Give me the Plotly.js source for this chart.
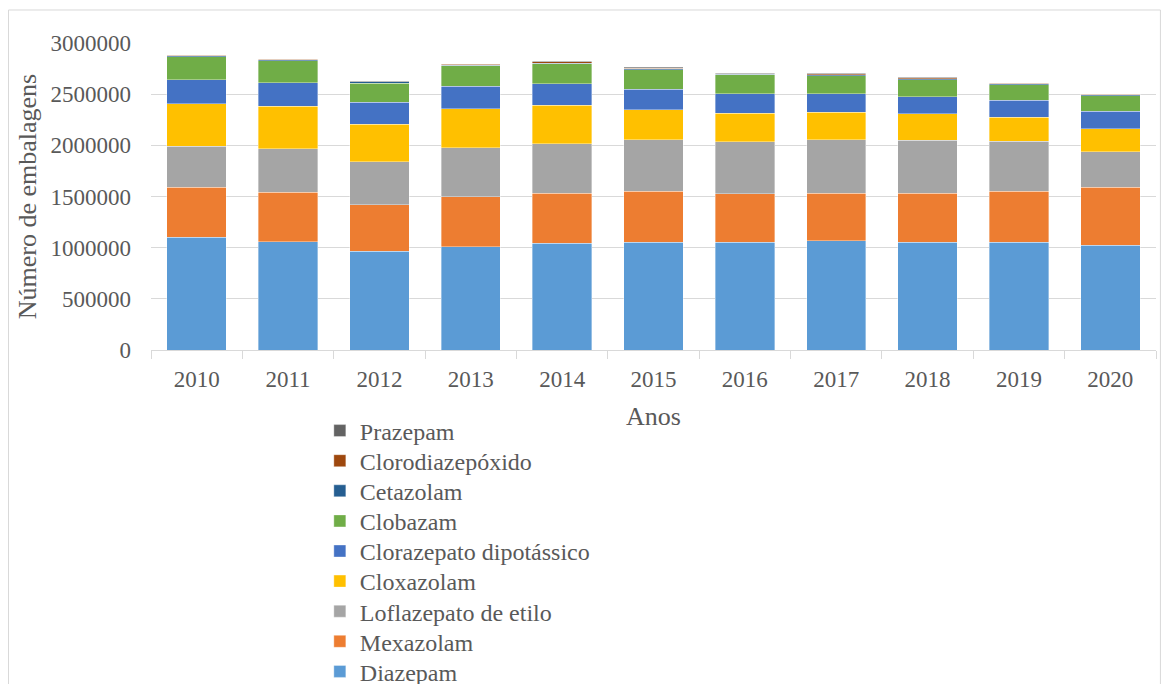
<!DOCTYPE html>
<html>
<head>
<meta charset="utf-8">
<script src="https://cdn.plot.ly/plotly-3.0.1.min.js"></script>
<style>html,body{margin:0;padding:0;background:#fff;}#chart{width:1171px;height:684px;}</style>
</head>
<body>
<div id="chart"></div>
<script>
const years = ['2010','2011','2012','2013','2014','2015','2016','2017','2018','2019','2020'];
const diazepam      = [1103000,1060000,963000,1009000,1045000,1055000,1055000,1070000,1055000,1055000,1025000];
const mexazolam     = [488000,482000,458000,490000,487000,497000,473000,462000,477000,497000,566000];
const loflazepato   = [399000,425000,419000,478000,484000,503000,507000,523000,517000,487000,344000];
const cloxazolam    = [415000,413000,365000,380000,374000,292000,280000,270000,259000,237000,227000];
const clorazepato   = [238000,234000,214000,218000,210000,199000,188000,178000,166000,163000,169000];
const clobazam      = [221000,211000,188000,201000,195000,191000,185000,179000,169000,155000,152000];
const cetazolam     = [12000,13000,12000,6000,8000,10000,9000,8000,8000,8000,12000];
const clorodiazep   = [4000,5000,3000,10000,14000,6000,3000,10000,10000,3000,5000];
const prazepam      = [3000,5000,2000,3000,5000,10000,5000,5000,5000,9000,3000];

const seriesNames = ['Diazepam','Mexazolam','Loflazepato de etilo','Cloxazolam','Clorazepato dipotássico','Clobazam','Cetazolam','Clorodiazepóxido','Prazepam'];
const seriesValues = [diazepam,mexazolam,loflazepato,cloxazolam,clorazepato,clobazam,cetazolam,clorodiazep,prazepam];
const seriesColors = ['#5B9BD5','#ED7D31','#A5A5A5','#FFC000','#4472C4','#70AD47','#255E91','#9E480E','#636363'];

const legendIds = seriesNames.map((n,i)=> i===0 ? 'legend' : 'legend'+(i+1));

const traces = seriesNames.map((n,i)=>({
  type:'bar', name:n, x:years, y:seriesValues[i], legend:legendIds[i],
  marker:{color:seriesColors[i], line:{color:'rgba(255,255,255,0.6)', width:0.6}},
  hoverinfo:'name+y'
}));

const font = {family:'"Liberation Serif", "Times New Roman", serif', color:'#595959'};
const H = 684, mT = 43, mB = 334;
const plotBottom = H - mB, plotH = H - mT - mB;
const layout = {
  width:1171, height:H,
  margin:{l:151, r:15, t:mT, b:mB, autoexpand:false},
  barmode:'stack', bargap:0.35,
  paper_bgcolor:'#fff', plot_bgcolor:'#fff',
  font:Object.assign({size:20}, font),
  xaxis:{type:'category', ticks:'outside', tickson:'boundaries', ticklen:8, tickcolor:'#d9d9d9',
    showline:true, linecolor:'#d9d9d9', linewidth:1, showgrid:false,
    tickfont:Object.assign({size:23}, font), ticklabelstandoff:8,
    title:{text:'Anos', font:Object.assign({size:26}, font), standoff:16}},
  yaxis:{range:[0,3000000], dtick:500000, tickformat:'d', showgrid:true, gridcolor:'#d9d9d9', gridwidth:1,
    zeroline:false, showline:false, ticks:'', tickfont:Object.assign({size:23}, font), ticklabelstandoff:19,
    title:{text:'Número de embalagens', font:Object.assign({size:26}, font), standoff:6}},
  shapes:[{type:'rect', xref:'paper', yref:'paper', x0:-0.1418, x1:1.0044, y0:-1.2, y1:1.1075,
    line:{color:'#d9d9d9', width:1}, fillcolor:'rgba(0,0,0,0)', layer:'below'}],
  showlegend:true
};
// legend rows (pixel centres), top row = last series
const rowTop = 431, rowStep = 30.1;
seriesNames.forEach((n,i)=>{
  const row = seriesNames.length - 1 - i;
  const py = rowTop + row*rowStep;
  layout[legendIds[i]] = {orientation:'v', x:0.168, xanchor:'left', y:(plotBottom - py)/plotH, yanchor:'middle',
    font:Object.assign({size:24}, font), bgcolor:'rgba(0,0,0,0)', itemwidth:30};
});
Plotly.newPlot('chart', traces, layout, {displayModeBar:false, staticPlot:true});
</script>
</body>
</html>
